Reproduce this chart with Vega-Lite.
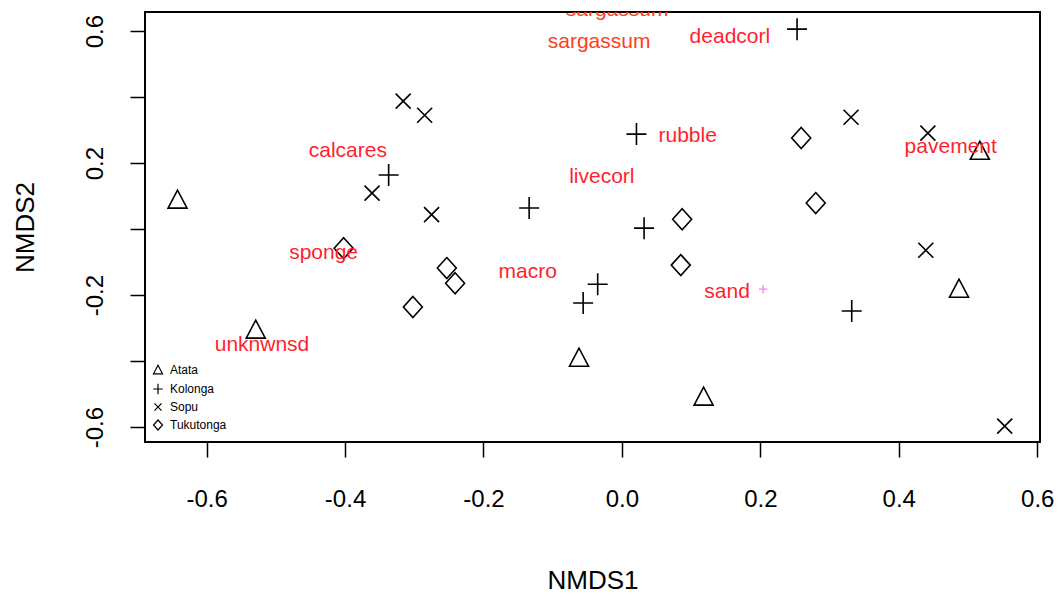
{
  "$schema": "https://vega.github.io/schema/vega-lite/v6.json",
  "width": 895,
  "height": 430,
  "autosize": {"type": "none"},
  "padding": {"left": 145, "top": 12, "right": 21, "bottom": 158},
  "background": "white",
  "config": {
    "view": {"stroke": "black", "strokeWidth": 2},
    "font": "Liberation Sans",
    "axis": {
      "domain": false,
      "grid": false,
      "tickColor": "black",
      "tickWidth": 1.5,
      "tickSize": 15,
      "labelColor": "black",
      "titleColor": "black",
      "labelFontSize": 24,
      "titleFontSize": 26,
      "titleFontWeight": "normal",
      "labelFont": "Liberation Sans",
      "titleFont": "Liberation Sans",
      "labelFlush": false,
      "labelOverlap": false
    }
  },
  "datasets": {
    "sites": [
      {"site": "Atata", "NMDS1": -0.642, "NMDS2": 0.088},
      {"site": "Atata", "NMDS1": -0.529, "NMDS2": -0.306},
      {"site": "Atata", "NMDS1": -0.062, "NMDS2": -0.391},
      {"site": "Atata", "NMDS1": 0.118, "NMDS2": -0.509},
      {"site": "Atata", "NMDS1": 0.517, "NMDS2": 0.236},
      {"site": "Atata", "NMDS1": 0.487, "NMDS2": -0.182},
      {"site": "Kolonga", "NMDS1": 0.253, "NMDS2": 0.606},
      {"site": "Kolonga", "NMDS1": 0.021, "NMDS2": 0.288},
      {"site": "Kolonga", "NMDS1": -0.337, "NMDS2": 0.164},
      {"site": "Kolonga", "NMDS1": -0.134, "NMDS2": 0.064},
      {"site": "Kolonga", "NMDS1": 0.032, "NMDS2": 0.003},
      {"site": "Kolonga", "NMDS1": -0.035, "NMDS2": -0.167},
      {"site": "Kolonga", "NMDS1": -0.056, "NMDS2": -0.224},
      {"site": "Kolonga", "NMDS1": 0.332, "NMDS2": -0.248},
      {"site": "Sopu", "NMDS1": -0.316, "NMDS2": 0.388},
      {"site": "Sopu", "NMDS1": -0.285, "NMDS2": 0.345},
      {"site": "Sopu", "NMDS1": -0.361, "NMDS2": 0.109},
      {"site": "Sopu", "NMDS1": -0.275, "NMDS2": 0.044},
      {"site": "Sopu", "NMDS1": 0.331, "NMDS2": 0.339},
      {"site": "Sopu", "NMDS1": 0.442, "NMDS2": 0.291},
      {"site": "Sopu", "NMDS1": 0.439, "NMDS2": -0.064},
      {"site": "Sopu", "NMDS1": 0.553, "NMDS2": -0.597},
      {"site": "Tukutonga", "NMDS1": -0.402, "NMDS2": -0.058},
      {"site": "Tukutonga", "NMDS1": -0.253, "NMDS2": -0.118},
      {"site": "Tukutonga", "NMDS1": -0.241, "NMDS2": -0.164},
      {"site": "Tukutonga", "NMDS1": -0.302, "NMDS2": -0.236},
      {"site": "Tukutonga", "NMDS1": 0.087, "NMDS2": 0.030},
      {"site": "Tukutonga", "NMDS1": 0.085, "NMDS2": -0.109},
      {"site": "Tukutonga", "NMDS1": 0.259, "NMDS2": 0.276},
      {"site": "Tukutonga", "NMDS1": 0.280, "NMDS2": 0.079}
    ],
    "species": [
      {"label": "sargassum", "NMDS1": -0.007, "NMDS2": 0.664},
      {"label": "sargassum", "NMDS1": -0.033, "NMDS2": 0.567},
      {"label": "deadcorl", "NMDS1": 0.156, "NMDS2": 0.582},
      {"label": "rubble", "NMDS1": 0.095, "NMDS2": 0.282},
      {"label": "calcares", "NMDS1": -0.396, "NMDS2": 0.236},
      {"label": "livecorl", "NMDS1": -0.029, "NMDS2": 0.158},
      {"label": "pavement", "NMDS1": 0.475, "NMDS2": 0.248},
      {"label": "sponge", "NMDS1": -0.431, "NMDS2": -0.073},
      {"label": "macro", "NMDS1": -0.136, "NMDS2": -0.130},
      {"label": "sand", "NMDS1": 0.152, "NMDS2": -0.191},
      {"label": "unknwnsd", "NMDS1": -0.520, "NMDS2": -0.352}
    ],
    "speciesPoint": [
      {"label": "sand", "NMDS1": 0.204, "NMDS2": -0.182}
    ]
  },
  "layer": [
    {
      "data": {"name": "sites"},
      "mark": {"type": "point", "filled": false, "opacity": 1, "strokeWidth": 1.6, "size": 400, "color": "black"},
      "encoding": {
        "x": {
          "field": "NMDS1", "type": "quantitative",
          "scale": {"domain": [-0.689, 0.604], "nice": false, "zero": false},
          "axis": {
            "values": [-0.6, -0.4, -0.2, 0, 0.2, 0.4, 0.6],
            "labelExpr": "datum.value < 0 ? '-' + format(-datum.value, '.1f') : format(datum.value, '.1f')",
            "labelPadding": 30,
            "title": "NMDS1",
            "titleY": 138,
            "titleBaseline": "middle"
          }
        },
        "y": {
          "field": "NMDS2", "type": "quantitative",
          "scale": {"domain": [-0.645, 0.658], "nice": false, "zero": false},
          "axis": {
            "values": [-0.6, -0.4, -0.2, 0, 0.2, 0.4, 0.6],
            "labelExpr": "abs(datum.value) == 0.4 || datum.value == 0 ? '' : (datum.value < 0 ? '-' + format(-datum.value, '.1f') : format(datum.value, '.1f'))",
            "labelAngle": 270,
            "labelAlign": "center",
            "labelBaseline": "bottom",
            "labelPadding": 23,
            "title": "NMDS2",
            "titleX": -120,
            "titleY": 215,
            "titleAngle": 270,
            "titleAlign": "center",
            "titleBaseline": "middle"
          }
        },
        "shape": {
          "field": "site", "type": "nominal",
          "scale": {
            "domain": ["Atata", "Kolonga", "Sopu", "Tukutonga"],
            "range": [
              "M0,-1L-0.95,0.8L0.95,0.8Z",
              "M-1,0H1M0,-1.1V1.1",
              "M-0.75,-0.75L0.75,0.75M-0.75,0.75L0.75,-0.75",
              "M0,-1.05L0.95,0L0,1.05L-0.95,0Z"
            ]
          },
          "legend": {
            "orient": "none",
            "legendX": 7,
            "legendY": 352,
            "title": null,
            "padding": 0,
            "labelFontSize": 12,
            "labelFont": "Liberation Sans",
            "labelColor": "black",
            "symbolSize": 90,
            "symbolStrokeColor": "black",
            "symbolStrokeWidth": 1.2,
            "symbolFillColor": "transparent",
            "symbolOpacity": 1,
            "rowPadding": 4,
            "labelOffset": 6
          }
        }
      }
    },
    {
      "data": {"name": "speciesPoint"},
      "mark": {"type": "point", "shape": "M-1,0H1M0,-1V1", "size": 70, "color": "#FF77FF", "strokeWidth": 1.3, "opacity": 1, "filled": false},
      "encoding": {
        "x": {"field": "NMDS1", "type": "quantitative"},
        "y": {"field": "NMDS2", "type": "quantitative"}
      }
    },
    {
      "data": {"name": "species"},
      "mark": {"type": "text", "fontSize": 21, "clip": true, "font": "Liberation Sans", "align": "center", "baseline": "middle"},
      "encoding": {
        "x": {"field": "NMDS1", "type": "quantitative"},
        "y": {"field": "NMDS2", "type": "quantitative"},
        "text": {"field": "label"},
        "color": {
          "condition": {"test": "datum.label === 'sargassum'", "value": "#FF4020"},
          "value": "#FF1F2F"
        }
      }
    }
  ]
}
